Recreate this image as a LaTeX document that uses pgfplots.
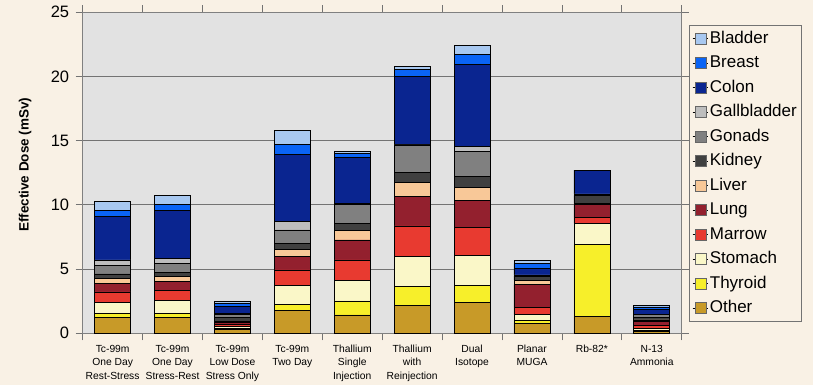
\documentclass[border=0pt]{standalone}
\usepackage{fontspec}
\setmainfont{Liberation Sans}
\usepackage{pgfplots}
\usepackage{pgfplotstable}
\pgfplotsset{compat=1.18}
\definecolor{bg}{HTML}{F9F1E5}
\definecolor{plotbg}{HTML}{E2E2E2}
\definecolor{cOther}{HTML}{C89A28}
\definecolor{cThyroid}{HTML}{F7EF2A}
\definecolor{cStomach}{HTML}{FAF7C8}
\definecolor{cMarrow}{HTML}{E83A30}
\definecolor{cLung}{HTML}{93202E}
\definecolor{cLiver}{HTML}{F8C898}
\definecolor{cKidney}{HTML}{404040}
\definecolor{cGonads}{HTML}{808080}
\definecolor{cGall}{HTML}{BDBDBD}
\definecolor{cColon}{HTML}{0A2590}
\definecolor{cBreast}{HTML}{0A64F5}
\definecolor{cBladder}{HTML}{A8C8F0}

\pgfplotstableread{
x Other Thyroid Stomach Marrow Lung Liver Kidney Gonads Gall Colon Breast Bladder
0 1.25 0.31 0.85 0.81 0.67 0.39 0.34 0.65 0.44 3.37 0.52 0.70
1 1.25 0.31 0.98 0.78 0.75 0.34 0.34 0.70 0.39 3.71 0.49 0.68
2 0.30 0.10 0.15 0.15 0.15 0.10 0.30 0.25 0.05 0.57 0.20 0.15
3 1.81 0.47 1.43 1.22 1.04 0.57 0.47 1.04 0.64 5.25 0.80 1.04
4 1.43 1.09 1.58 1.61 1.56 0.72 0.58 1.48 0.05 3.58 0.33 0.18
5 2.20 1.48 2.34 2.34 2.28 1.09 0.78 2.16 0.05 5.31 0.53 0.25
6 2.41 1.35 2.28 2.18 2.16 0.99 0.83 1.94 0.39 6.44 0.76 0.72
7 0.80 0.20 0.45 0.55 1.80 0.35 0.30 0.05 0.05 0.50 0.40 0.25
8 1.30 5.63 1.64 0.46 1.02 0.05 0.65 0.05 0.05 1.85 0.00 0.00
9 0.15 0.10 0.15 0.20 0.30 0.15 0.20 0.20 0.05 0.35 0.20 0.15
}\data

\begin{document}
\begin{tikzpicture}
\path[use as bounding box] (-82.7pt,-51.7pt) rectangle (730.3pt,333.3pt);
\fill[bg] (-82.7pt,-51.7pt) rectangle (730.3pt,333.3pt);
\begin{axis}[
  at={(0,0)}, anchor=south west,
  scale only axis, width=599pt, height=321pt,
  axis background/.style={fill=plotbg},
  ybar stacked, bar width=0.6,
  xmin=-0.5, xmax=9.5, ymin=0, ymax=25,
  ytick={0,5,...,25},
  ymajorgrids,
  grid style={draw=black!55, line width=0.9pt},
  axis line style={draw=black!50, line width=0.9pt},
  tick style={draw=black!55, line width=0.8pt},
  tick align=outside,
  major tick length=7pt,
  /pgf/number format/assume math mode=true,
  yticklabel style={font=\fontsize{16.5}{18}\selectfont, xshift=-3pt},
  xtick={-0.5,0.5,...,9.5},
  xticklabels={},
  extra x ticks={0,1,2,3,4,5,6,7,8,9},
  extra x tick labels={{Tc-99m\\One Day\\Rest-Stress},{Tc-99m\\One Day\\Stress-Rest},{Tc-99m\\Low Dose\\Stress Only},{Tc-99m\\Two Day},{Thallium\\Single\\Injection},{Thallium\\with\\Reinjection},{Dual\\Isotope},{Planar\\MUGA},{Rb-82*},{N-13\\Ammonia}},
  extra x tick style={major tick length=0pt, tick style={draw=none}},
  xticklabel style={align=center, font=\fontsize{10.3}{13.5}\selectfont, yshift=-8pt},
  ylabel={\bfseries Effective Dose (mSv)},
  ylabel style={at={(axis description cs:-0.0963,0.525)}, anchor=center, font=\fontsize{13.5}{16}\selectfont},
  reverse legend,
  legend style={at={(rel axis cs:1.012,0.96)}, anchor=north west, draw=black!55, line width=0.8pt, fill=bg,
    font=\fontsize{17}{20}\selectfont, cells={anchor=west},
    nodes={inner sep=2pt, text height=12.5pt, text depth=3.5pt},
    row sep=4.5pt, inner xsep=3pt, inner ysep=3pt},
  seg/.style={draw=black, line width=0.6pt, fill=#1,
    legend image code/.code={\path (0pt,0pt) -- (15pt,0pt); \draw[fill=#1, draw=black!60, line width=0.6pt] (3pt,-5.5pt) rectangle (14pt,5.5pt);}},
]
\addplot[seg=cOther] table[x=x,y=Other] {\data};
\addplot[seg=cThyroid] table[x=x,y=Thyroid] {\data};
\addplot[seg=cStomach] table[x=x,y=Stomach] {\data};
\addplot[seg=cMarrow] table[x=x,y=Marrow] {\data};
\addplot[seg=cLung] table[x=x,y=Lung] {\data};
\addplot[seg=cLiver] table[x=x,y=Liver] {\data};
\addplot[seg=cKidney] table[x=x,y=Kidney] {\data};
\addplot[seg=cGonads] table[x=x,y=Gonads] {\data};
\addplot[seg=cGall] table[x=x,y=Gall] {\data};
\addplot[seg=cColon] table[x=x,y=Colon] {\data};
\addplot[seg=cBreast] table[x=x,y=Breast] {\data};
\addplot[seg=cBladder] table[x=x,y=Bladder] {\data};
\legend{Other,Thyroid,Stomach,Marrow,Lung,Liver,Kidney,Gonads,Gallbladder,Colon,Breast,Bladder}
\end{axis}
\end{tikzpicture}
\end{document}
